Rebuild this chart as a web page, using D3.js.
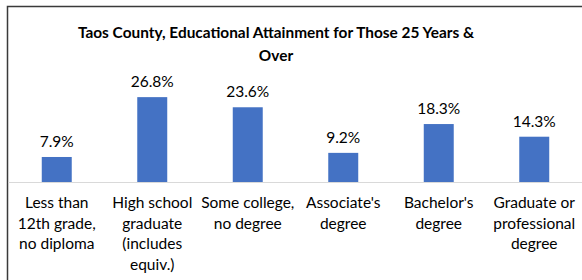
<!DOCTYPE html>
<html>
<head>
<meta charset="utf-8">
<script src="https://cdn.jsdelivr.net/npm/d3@7"></script>
<style>
  body { margin: 0; background: #fff; }
  svg { display: block; }
</style>
</head>
<body>
<svg class="chart"></svg>
<script>
const size = { w: 582, h: 280 };

// categories, split into the lines shown under each bar
const categories = [
	"Less than 12th grade, no diploma",
	"High school graduate (includes equiv.)",
	"Some college, no degree",
	"Associate's degree",
	"Bachelor's degree",
	"Graduate or professional degree",
];
const categoryLines = [
	["Less than", "12th grade,", "no diploma"],
	["High school", "graduate", "(includes", "equiv.)"],
	["Some college,", "no degree"],
	["Associate's", "degree"],
	["Bachelor's", "degree"],
	["Graduate or", "professional", "degree"],
];
const values = [7.9, 26.8, 23.6, 9.2, 18.3, 14.3];
const titleLines = ["Taos County, Educational Attainment for Those 25 Years &", "Over"];

const font = "Lato, 'Open Sans', sans-serif";
const svg = d3.select("svg.chart").attr("width", size.w).attr("height", size.h);

// chart frame (cropped on right and bottom)
svg.append("path")
	.attr("d", `M7.5,${size.h} V6.5 H${size.w}`)
	.attr("fill", "none")
	.attr("stroke", "#3a3a3a")
	.attr("stroke-width", 1.5);

// title
svg.append("text")
	.attr("x", 276)
	.attr("y", 38)
	.attr("text-anchor", "middle")
	.attr("font-family", font)
	.attr("font-weight", "bold")
	.attr("font-size", 15.4)
	.attr("fill", "#000")
	.selectAll("tspan")
	.data(titleLines)
	.join("tspan")
	.attr("x", 276)
	.attr("dy", (d, i) => (i === 0 ? 0 : 23))
	.text((d) => d);

const x = d3.scaleBand()
	.domain(categories)
	.range([9, 582])
	.paddingInner(0.686)
	.paddingOuter(0.343);

const y = d3.scaleLinear()
	.domain([0, 30])
	.range([182, 87]);

const g = svg.append("g");

g.selectAll("rect")
	.data(values)
	.join("rect")
	.attr("x", (d, i) => x(categories[i]))
	.attr("y", (d) => y(d))
	.attr("width", x.bandwidth())
	.attr("height", (d) => y(0) - y(d))
	.attr("fill", "#4472C4");

// baseline
svg.append("line")
	.attr("x1", 8)
	.attr("x2", size.w)
	.attr("y1", y(0) + 0.5)
	.attr("y2", y(0) + 0.5)
	.attr("stroke", "#d9d9d9")
	.attr("stroke-width", 1);

// value labels
g.selectAll("text.value")
	.data(values)
	.join("text")
	.classed("value", true)
	.attr("x", (d, i) => x(categories[i]) + x.bandwidth() / 2)
	.attr("y", (d) => y(d) - 10)
	.attr("text-anchor", "middle")
	.attr("font-family", font)
	.attr("font-size", 15.5)
	.attr("fill", "#000")
	.text((d) => d.toFixed(1) + "%");

// category labels
const cat = g.selectAll("text.cat")
	.data(categoryLines)
	.join("text")
	.classed("cat", true)
	.attr("text-anchor", "middle")
	.attr("font-family", font)
	.attr("font-size", 15.5)
	.attr("fill", "#000")
	.attr("y", 208);

cat.selectAll("tspan")
	.data((d, i) => d.map((t) => ({ t, i })))
	.join("tspan")
	.attr("x", (d) => x(categories[d.i]) + x.bandwidth() / 2)
	.attr("dy", (d, j) => (j === 0 ? 0 : 20.5))
	.text((d) => d.t);
</script>
</body>
</html>
